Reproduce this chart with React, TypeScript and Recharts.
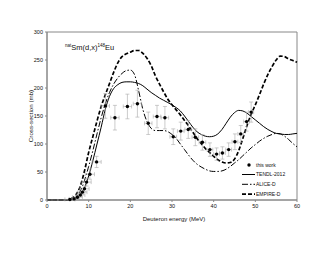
import {
  ComposedChart,
  ErrorBar,
  Line,
  ReferenceArea,
  Scatter,
  XAxis,
  YAxis,
} from "recharts";

const energies = [
  0, 2, 4, 5, 6, 7, 8, 9, 10, 11, 12, 13, 14, 15, 16, 17, 18, 19, 20, 21, 22, 23, 24, 25, 26, 27, 28,
  29, 30, 31, 32, 33, 34, 35, 36, 37, 38, 39, 40, 41, 42, 43, 44, 45, 46, 47, 48, 49, 50, 51, 52, 53,
  54, 55, 56, 57, 58, 59, 60,
];

const tendl = [
  0, 0, 0, 0.3, 1, 4, 10, 22, 43, 70, 100, 130, 162, 185, 199, 206, 210, 211, 211, 210, 208, 204, 198,
  192, 187, 182, 178, 174, 170, 165, 159, 150, 140, 130, 122, 117, 114, 113, 114, 118, 126, 137, 148,
  156, 160, 159, 155, 149, 143, 137, 131, 126, 122, 119, 118, 117, 117, 118, 119,
];

const alice = [
  0, 0, 0, 0.4, 2, 6, 16, 35, 60, 88, 118, 147, 172, 192, 207, 218, 226, 231, 232, 224, 195, 162, 140,
  128, 124, 124, 124, 122, 117, 110, 100, 90, 80, 71, 64, 59, 55, 52, 51, 51, 52, 55, 60, 66, 72, 79,
  86, 93, 99, 105, 110, 114, 117, 119, 118, 114, 108, 101, 95,
];

const empire = [
  0, 0, 0, 0.5, 3, 10, 25, 52, 85, 113, 141, 167, 188, 208, 228, 245, 256, 261, 264, 267, 267, 262,
  253, 240, 222, 207, 193, 180, 170, 161, 152, 142, 132, 121, 110, 101, 92, 85, 78, 72, 68, 66, 67, 73,
  88, 110, 133, 153, 170, 188, 207, 224, 238, 250, 257, 256, 252, 249, 246,
];

// this work: energy, cross-section, and their uncertainties
const expE = [
  5.5, 6.5, 7.3, 8.0, 8.5, 9.0, 9.5, 10.3, 11.9, 14.0, 16.3, 19.3, 21.7, 24.3, 26.4, 28.3, 30.3, 32.1,
  33.9, 35.6, 37.3, 39.1, 40.7, 42.1, 43.6, 45.1, 46.5, 47.9, 49.0,
];
const expV = [
  1, 2, 5, 9, 14, 20, 32, 46, 68, 168, 147, 167, 172, 137, 149, 147, 113, 123, 126, 112, 103, 90, 82,
  84, 90, 104, 118, 140, 157,
];
const expErrV = [
  1, 1, 2, 3, 4, 5, 7, 9, 10, 22, 22, 22, 24, 20, 20, 20, 14, 16, 16, 15, 14, 12, 11, 11, 12, 14, 15,
  17, 18,
];
const expErrE = [
  1.2, 1.2, 1.2, 1.1, 1.1, 1.1, 1.1, 1.1, 1.1, 1.0, 1.0, 1.0, 1.0, 0.9, 0.9, 0.9, 0.8, 0.8, 0.8, 0.8,
  0.8, 0.7, 0.7, 0.7, 0.7, 0.7, 0.7, 0.7, 0.6,
];

const xTicks = [0, 10, 20, 30, 40, 50, 60];
const yTicks = [0, 50, 100, 150, 200, 250, 300];

const curve = (vals: number[]) => energies.map((e, i) => ({ e, v: vals[i] }));
const points = expE.map((e, i) => ({ e, v: expV[i], ey: expErrV[i], ex: expErrE[i] }));

const font = "'Liberation Sans', Arial, sans-serif";
const tick = { fontSize: 5.5, fill: "#111", fontFamily: font };

export default function App() {
  return (
    <div style={{ position: "absolute", left: 0, top: 0, width: 330, height: 255, background: "#fff" }}>
      <ComposedChart
        width={330}
        height={255}
        margin={{ top: 32, right: 33, bottom: 35, left: 0 }}
        style={{ fontFamily: font }}
      >
        <XAxis
          dataKey="e"
          type="number"
          domain={[0, 60]}
          ticks={xTicks}
          height={20}
          tick={tick}
          tickSize={2}
          stroke="#888"
          allowDuplicatedCategory={false}
        />
        <YAxis
          type="number"
          domain={[0, 300]}
          ticks={yTicks}
          width={47}
          tick={tick}
          tickSize={2}
          stroke="#888"
        />
        <ReferenceArea x1={0} x2={60} y1={0} y2={300} fill="none" stroke="#888" strokeWidth={1} />
        <Line
          data={curve(tendl)}
          dataKey="v"
          type="monotone"
          stroke="#000"
          strokeWidth={1}
          dot={false}
          isAnimationActive={false}
        />
        <Line
          data={curve(alice)}
          dataKey="v"
          type="monotone"
          stroke="#000"
          strokeWidth={1}
          strokeDasharray="6 2 1.5 2"
          dot={false}
          isAnimationActive={false}
        />
        <Line
          data={curve(empire)}
          dataKey="v"
          type="monotone"
          stroke="#000"
          strokeWidth={1.7}
          strokeDasharray="4 2"
          dot={false}
          isAnimationActive={false}
        />
        <Scatter
          data={points}
          dataKey="v"
          fill="#000"
          isAnimationActive={false}
          shape={(p: any) => <circle cx={p.cx} cy={p.cy} r={1.7} fill="#000" />}
        >
          <ErrorBar dataKey="ey" direction="y" stroke="#aaa" strokeWidth={0.6} width={2} />
          <ErrorBar dataKey="ex" direction="x" stroke="#aaa" strokeWidth={0.6} width={2} />
        </Scatter>
      </ComposedChart>
      <svg
        width={330}
        height={255}
        style={{ position: "absolute", left: 0, top: 0, pointerEvents: "none", fontFamily: font }}
      >
        <text x={65} y={50} fontSize={7.5} fill="#111">
          <tspan fontSize={4.5} dy={-3}>nat</tspan>
          <tspan dy={3}>Sm(d,x)</tspan>
          <tspan fontSize={4.5} dy={-3}>148</tspan>
          <tspan dy={3}>Eu</tspan>
        </text>
        <text x={33} y={116} fontSize={6.2} fill="#111" textAnchor="middle" transform="rotate(-90 33 116)">
          Cross-section (mb)
        </text>
        <text x={174} y={221} fontSize={6} fill="#111" textAnchor="middle">
          Deuteron energy (MeV)
        </text>
        <g fontSize={5} fill="#111">
          <circle cx={249} cy={165} r={1.7} fill="#000" />
          <text x={256} y={166.8}>this work</text>
          <line x1={242} x2={255} y1={174.5} y2={174.5} stroke="#000" strokeWidth={1} />
          <text x={256} y={176.3}>TENDL-2012</text>
          <line x1={242} x2={255} y1={184.3} y2={184.3} stroke="#000" strokeWidth={1} strokeDasharray="6 2 1.5 2" />
          <text x={256} y={186.1}>ALICE-D</text>
          <line x1={242} x2={255} y1={194.2} y2={194.2} stroke="#000" strokeWidth={1.7} strokeDasharray="4 2" />
          <text x={256} y={196}>EMPIRE-D</text>
        </g>
      </svg>
    </div>
  );
}
